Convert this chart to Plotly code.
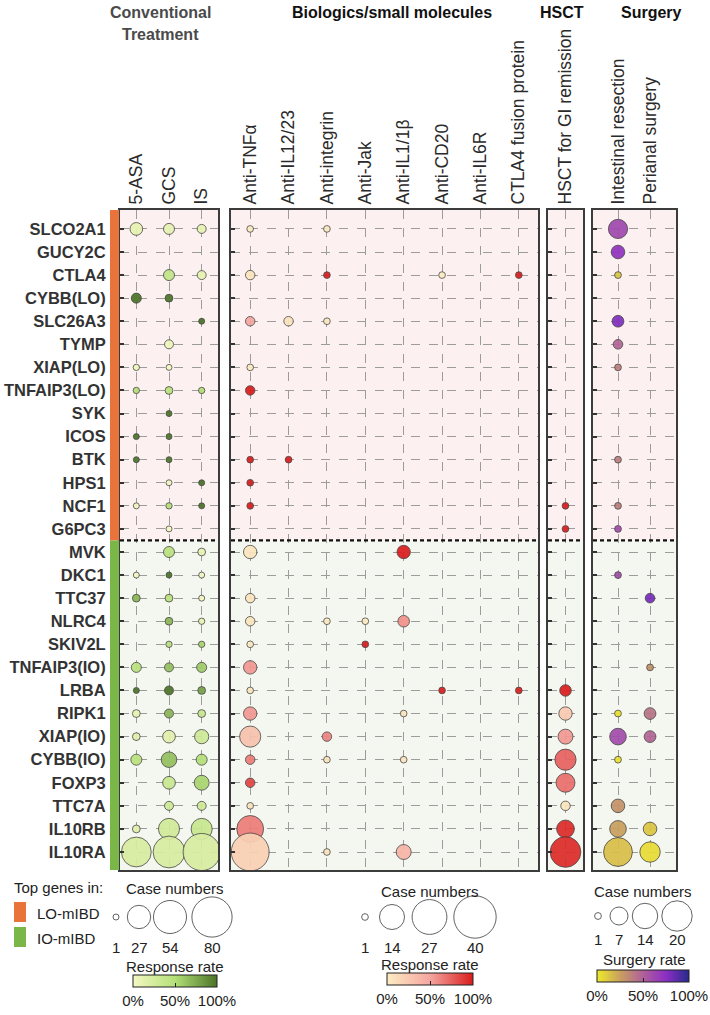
import plotly.graph_objects as go

W, H = 710, 1015
FONT = "Liberation Sans, Arial, sans-serif"

# ---------------- data ----------------
genes = ["SLCO2A1", "GUCY2C", "CTLA4", "CYBB(LO)", "SLC26A3", "TYMP", "XIAP(LO)",
         "TNFAIP3(LO)", "SYK", "ICOS", "BTK", "HPS1", "NCF1", "G6PC3",
         "MVK", "DKC1", "TTC37", "NLRC4", "SKIV2L", "TNFAIP3(IO)", "LRBA", "RIPK1",
         "XIAP(IO)", "CYBB(IO)", "FOXP3", "TTC7A", "IL10RB", "IL10RA"]
n_lo = 14  # first 14 genes: LO-mIBD

conv_cols = ["5-ASA", "GCS", "IS"]
bio_cols = ["Anti-TNFα", "Anti-IL12/23", "Anti-integrin", "Anti-Jak", "Anti-IL1/1β",
            "Anti-CD20", "Anti-IL6R", "CTLA4 fusion protein"]
hsct_cols = ["HSCT for GI remission"]
surg_cols = ["Intestinal resection", "Perianal surgery"]

N = None
# Conventional treatment: case numbers / response rate (%)
asa_n = [8, N, N, 5, N, N, 2, 2, N, 1, 1, N, 1, N, N, 1, 3, N, N, 5, 1, 3, 3, 6, N, N, 3, 44]
asa_r = [10, N, N, 100, N, N, 5, 50, N, 100, 100, N, 0, N, N, 0, 70, N, N, 45, 100, 10, 15, 45, N, N, 15, 22]
gcs_n = [6, N, 6, 3, N, 4, 1, 3, 1, 1, 1, 1, 2, 1, 6, 1, 3, 3, 2, 4, 4, 4, 8, 12, 8, 4, 22, 50]
gcs_r = [10, N, 40, 100, N, 5, 0, 45, 100, 100, 100, 0, 50, 0, 45, 100, 45, 70, 45, 65, 100, 70, 15, 65, 35, 30, 28, 22]
is_n = [4, N, 4, N, 1, N, N, 2, N, N, N, 1, 1, N, 3, 1, 1, 2, 2, 5, 3, 3, 10, 6, 11, 4, 22, 68]
is_r = [10, N, 10, N, 100, N, N, 50, N, N, N, 100, 100, N, 10, 0, 0, 10, 55, 60, 80, 35, 30, 50, 55, 30, 35, 22]

# Biologics / small molecules
tnf_n = [1, N, 2, N, 2, N, 1, 2, N, N, 1, 1, 1, N, 4, N, 2, 2, 1, 4, 1, 4, 10, 2, 2, 1, 16, 32]
tnf_r = [0, N, 5, N, 50, N, 0, 100, N, N, 100, 100, 100, N, 5, N, 5, 5, 0, 55, 5, 55, 30, 65, 85, 5, 65, 20]
il12_n = [N, N, N, N, 2, N, N, N, N, N, 1, N, N, N, N, N, N, N, N, N, N, N, N, N, N, N, N, N]
il12_r = [N, N, N, N, 5, N, N, N, N, N, 100, N, N, N, N, N, N, N, N, N, N, N, N, N, N, N, N, N]
itg_n = [1, N, 1, N, 1, N, N, N, N, N, N, N, N, N, N, N, N, 1, N, N, N, N, 2, 1, N, N, N, 1]
itg_r = [0, N, 100, N, 0, N, N, N, N, N, N, N, N, N, N, N, N, 0, N, N, N, N, 62, 5, N, N, N, 5]
jak_n = [N, N, N, N, N, N, N, N, N, N, N, N, N, N, N, N, N, 1, 1, N, N, N, N, N, N, N, N, N]
jak_r = [N, N, N, N, N, N, N, N, N, N, N, N, N, N, N, N, N, 0, 100, N, N, N, N, N, N, N, N, N]
il1_n = [N, N, N, N, N, N, N, N, N, N, N, N, N, N, 4, N, N, 3, N, N, N, 1, N, 1, N, N, N, 5]
il1_r = [N, N, N, N, N, N, N, N, N, N, N, N, N, N, 100, N, N, 58, N, N, N, 5, N, 5, N, N, N, 40]
cd20_n = [N, N, 1, N, N, N, N, N, N, N, N, N, N, N, N, N, N, N, N, N, 1, N, N, N, N, N, N, N]
cd20_r = [N, N, 0, N, N, N, N, N, N, N, N, N, N, N, N, N, N, N, N, N, 100, N, N, N, N, N, N, N]
il6_n = [N] * 28
il6_r = [N] * 28
ctla_n = [N, N, 1, N, N, N, N, N, N, N, N, N, N, N, N, N, N, N, N, N, 1, N, N, N, N, N, N, N]
ctla_r = [N, N, 100, N, N, N, N, N, N, N, N, N, N, N, N, N, N, N, N, N, 100, N, N, N, N, N, N, N]

# HSCT
hsct_n = [N, N, N, N, N, N, N, N, N, N, N, N, 1, 1, N, N, N, N, N, N, 3, 4, 5, 10, 8, 2, 7, 21]
hsct_r = [N, N, N, N, N, N, N, N, N, N, N, N, 100, 100, N, N, N, N, N, N, 100, 25, 55, 75, 70, 5, 95, 95]

# Surgery: case numbers / surgery rate (%)
ires_n = [8, 4, 1, N, 3, 2, 1, N, N, N, 1, N, 1, 1, N, 1, N, N, N, N, N, 1, 6, 1, N, 4, 6, 18]
ires_r = [62, 72, 12, N, 78, 48, 38, N, N, N, 38, N, 38, 60, N, 60, N, N, N, N, N, 3, 60, 3, N, 30, 25, 15]
peri_n = [N, N, N, N, N, N, N, N, N, N, N, N, N, N, N, N, 2, N, N, 1, N, 3, 3, N, N, N, 4, 9]
peri_r = [N, N, N, N, N, N, N, N, N, N, N, N, N, N, N, N, 80, N, N, 30, N, 42, 48, N, N, N, 12, 5]

# legend values
conv_leg = [1, 27, 54, 80]
bio_leg = [1, 14, 27, 40]
surg_leg = [1, 7, 14, 20]
rate_ticks = [0, 50, 100]
rate_text = ["0%", "50%", "100%"]

# ---------------- styling ----------------
green_cs = [[0, "#f4f8c2"], [0.5, "#b4e078"], [1, "#4a7326"]]
red_cs = [[0, "#fdecc2"], [0.5, "#f5a6a0"], [1, "#d91c1c"]]
surg_cs = [[0, "#eeea2a"], [0.25, "#c9a05e"], [0.5, "#b0609a"], [0.75, "#8c2ec4"], [1, "#262a8c"]]

K_CONV, K_BIO, K_SURG = 4.5, 6.7, 6.8  # px diameter per sqrt(case)
ref = lambda k: 2.0 / (k * k)

def px(x):
    return x / W

def py(y):
    return 1 - y / H

Y0, Y1 = 210, 870
YR = [27.78, -0.82]
panels = [
    ("", (120, 218), [-0.5, 2.5], conv_cols, [(asa_n, asa_r), (gcs_n, gcs_r), (is_n, is_r)], green_cs, K_CONV),
    ("2", (231, 538), [-0.5, 7.5], bio_cols, [(tnf_n, tnf_r), (il12_n, il12_r), (itg_n, itg_r), (jak_n, jak_r),
                                          (il1_n, il1_r), (cd20_n, cd20_r), (il6_n, il6_r), (ctla_n, ctla_r)], red_cs, K_BIO),
    ("3", (548, 583), [-0.5, 0.5], hsct_cols, [(hsct_n, hsct_r)], red_cs, K_BIO),
    ("4", (593, 676), [-0.78, 1.81], surg_cols, [(ires_n, ires_r), (peri_n, peri_r)], surg_cs, K_SURG),
]

cb_common = dict(orientation="h", xanchor="left", yanchor="top", lenmode="pixels",
                 thickness=12, outlinewidth=1, outlinecolor="#222", xpad=0, ypad=0,
                 tickvals=rate_ticks, ticktext=rate_text, ticks="inside", ticklen=4,
                 tickcolor="#222", tickfont=dict(family=FONT, size=15, color="#222"),
                 title=dict(text=""))
colorbars = {
    "": dict(x=px(133), y=py(975), len=84, **cb_common),
    "2": dict(x=px(387), y=py(973), len=86, **cb_common),
    "4": dict(x=px(597), y=py(970), len=92, **cb_common),
}

fig = go.Figure()
layout = {}
shapes = []

for pid, (d0, d1), xr, cols, series, cs, k in panels:
    xs, ys, ss, cc = [], [], [], []
    for ci, (nl, rl) in enumerate(series):
        for gi, (n, r) in enumerate(zip(nl, rl)):
            if n is not None:
                xs.append(ci)
                ys.append(gi)
                ss.append(n)
                cc.append(r)
    show = pid in colorbars
    marker = dict(size=ss, sizemode="area", sizeref=ref(k), sizemin=3,
                  color=cc, colorscale=cs, cmin=0, cmax=100, opacity=0.92,
                  line=dict(color="#3a3a3a", width=0.8), showscale=show)
    if show:
        marker["colorbar"] = colorbars[pid]
    fig.add_trace(go.Scatter(x=xs, y=ys, mode="markers", marker=marker,
                             xaxis="x" + pid, yaxis="y" + pid, showlegend=False,
                             hoverinfo="skip"))
    xa = dict(domain=[px(d0), px(d1)], range=xr, anchor="y" + pid, side="top",
              tickvals=list(range(len(cols))), ticktext=cols, tickangle=-90,
              tickfont=dict(family=FONT, size=17.5, color="#2a2a2a"),
              showgrid=True, griddash="dash", gridcolor="#9c9c9c", gridwidth=0.8,
              showline=True, mirror=True, linecolor="#3c3c3c", linewidth=2,
              ticks="", zeroline=False, fixedrange=True)
    ya = dict(domain=[py(Y1), py(Y0)], range=YR, anchor="x" + pid,
              tickvals=list(range(len(genes))), ticktext=genes,
              showticklabels=(pid == ""), ticks="inside", ticklen=4, tickcolor="#333",
              tickwidth=1.5,
              tickfont=dict(family=FONT, size=16.5, color="#333", weight="bold"),
              ticklabelstandoff=9,
              showgrid=True, griddash="dash", gridcolor="#9c9c9c", gridwidth=0.8,
              showline=True, mirror=True, linecolor="#3c3c3c", linewidth=2,
              zeroline=False, fixedrange=True)
    layout["xaxis" + pid] = xa
    layout["yaxis" + pid] = ya
    xd = ("x" + pid) + " domain"
    yref = "y" + pid
    shapes += [
        dict(type="rect", xref=xd, yref=yref, x0=0, x1=1, y0=YR[1], y1=n_lo - 0.5,
             fillcolor="#fcf1f0", line=dict(width=0), layer="below"),
        dict(type="rect", xref=xd, yref=yref, x0=0, x1=1, y0=n_lo - 0.5, y1=YR[0],
             fillcolor="#f4f7ef", line=dict(width=0), layer="below"),
        dict(type="line", xref=xd, yref=yref, x0=0, x1=1, y0=n_lo - 0.5, y1=n_lo - 0.5,
             line=dict(color="#111", width=2.2, dash="4px,3px"), layer="above"),
    ]

# group colour bar left of panel 1
shapes += [
    dict(type="rect", xref="paper", yref="y", x0=px(110), x1=px(119), y0=YR[1], y1=n_lo - 0.5,
         fillcolor="#e8743b", line=dict(width=0)),
    dict(type="rect", xref="paper", yref="y", x0=px(110), x1=px(119), y0=n_lo - 0.5, y1=YR[0],
         fillcolor="#7ab648", line=dict(width=0)),
    dict(type="rect", xref="paper", yref="paper", x0=px(14), x1=px(26), y0=py(922), y1=py(902),
         fillcolor="#e8743b", line=dict(width=0)),
    dict(type="rect", xref="paper", yref="paper", x0=px(14), x1=px(26), y0=py(947), y1=py(927),
         fillcolor="#7ab648", line=dict(width=0)),
]

# ---------------- legend size bubbles (overlay axis in pixel units) ----------------
LEG_TOP = 870
layout["xaxis5"] = dict(domain=[0, 1], range=[0, W], visible=False, anchor="y5", fixedrange=True)
layout["yaxis5"] = dict(domain=[0, py(LEG_TOP)], range=[H, LEG_TOP], visible=False, anchor="x5", fixedrange=True)

legend_sets = [
    (conv_leg, [116, 139, 170, 212], 917, 947, K_CONV),
    (bio_leg, [365, 392, 429.5, 475], 917, 947, K_BIO),
    (surg_leg, [598, 619, 645, 677], 916, 939, K_SURG),
]
annotations = []
for vals, xpos, yc, ylab, k in legend_sets:
    fig.add_trace(go.Scatter(x=xpos, y=[yc] * len(vals), mode="markers",
                             marker=dict(size=vals, sizemode="area", sizeref=ref(k), sizemin=3,
                                         color="white", line=dict(color="#222", width=1)),
                             xaxis="x5", yaxis="y5", showlegend=False, hoverinfo="skip"))
    for v, xp in zip(vals, xpos):
        annotations.append(dict(x=px(xp), y=py(ylab), xref="paper", yref="paper", text=str(v),
                                showarrow=False, xanchor="center", yanchor="middle",
                                font=dict(family=FONT, size=15, color="#222")))

def txt(t, x, y, size=15, color="#222", bold=False, xanchor="center"):
    annotations.append(dict(x=px(x), y=py(y), xref="paper", yref="paper", text=t,
                            showarrow=False, xanchor=xanchor, yanchor="middle",
                            font=dict(family=FONT, size=size, color=color,
                                      weight="bold" if bold else "normal")))

# headers
txt("Conventional", 160, 13, 16, "#4a4a4a", True)
txt("Treatment", 160, 34, 16, "#4a4a4a", True)
txt("Biologics/small molecules", 392, 13, 16, "#111", True)
txt("HSCT", 562, 13, 16, "#111", True)
txt("Surgery", 651, 13, 16, "#111", True)

# legend texts
txt("Top genes in:", 12, 887, xanchor="left")
txt("LO-mIBD", 35, 913, xanchor="left")
txt("IO-mIBD", 35, 938, xanchor="left")
txt("Case numbers", 175, 888)
txt("Response rate", 175, 966)
txt("Case numbers", 430, 891)
txt("Response rate", 430, 964)
txt("Case numbers", 643, 891)
txt("Surgery rate", 644, 959)

fig.update_layout(
    width=W, height=H, margin=dict(l=0, r=0, t=0, b=0),
    paper_bgcolor="white", plot_bgcolor="rgba(0,0,0,0)",
    font=dict(family=FONT, color="#222"),
    shapes=shapes, annotations=annotations, showlegend=False,
    **layout,
)

fig.write_html("out.html")
